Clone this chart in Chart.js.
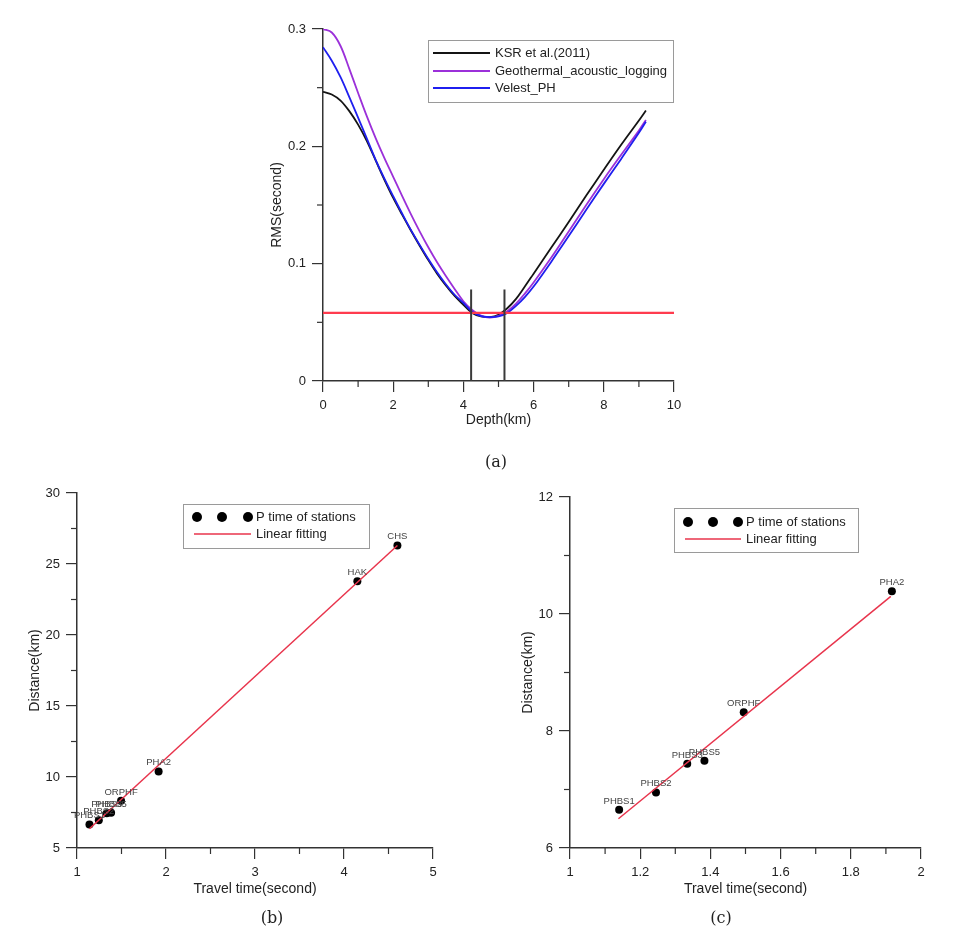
<!DOCTYPE html>
<html><head><meta charset="utf-8">
<script src="https://cdn.jsdelivr.net/npm/chart.js@4.4.1/dist/chart.umd.min.js"></script>
<style>
html,body{margin:0;padding:0;background:#fff;width:958px;height:931px;overflow:hidden;}
canvas{position:absolute;}
.cap{position:absolute;font-family:"DejaVu Serif","Liberation Serif",serif;font-size:16px;color:#222;transform:translate(-50%,-50%);white-space:nowrap;}
</style></head><body>
<canvas id="ca" width="450" height="440" style="left:250px;top:0px"></canvas>
<canvas id="cb" width="470" height="440" style="left:0px;top:470px"></canvas>
<canvas id="cc" width="470" height="440" style="left:480px;top:470px"></canvas>
<div class="cap" style="left:496px;top:461px">(a)</div>
<div class="cap" style="left:272px;top:917px">(b)</div>
<div class="cap" style="left:721px;top:917px">(c)</div>
<script>
// ---------- data (a) ----------
const depthKm = [0,0.25,0.5,0.75,1,1.25,1.5,1.75,2,2.25,2.5,2.75,3,3.25,3.5,3.75,4,4.25,4.5,4.75,5,5.25,5.5,5.75,6,6.5,7,7.5,8,8.5,9,9.2];
const rmsKSR = [0.2465,0.2442,0.2390,0.2300,0.2185,0.2045,0.1880,0.1715,0.1560,0.1420,0.1285,0.1155,0.1030,0.0915,0.0815,0.0725,0.0650,0.0580,0.0550,0.0545,0.0565,0.0620,0.0700,0.0805,0.0915,0.1135,0.1355,0.1580,0.1800,0.2015,0.2220,0.2305];
const rmsGeo = [0.3000,0.2970,0.2855,0.2660,0.2455,0.2255,0.2070,0.1900,0.1740,0.1580,0.1425,0.1278,0.1140,0.1012,0.0895,0.0785,0.0680,0.0605,0.0557,0.0540,0.0555,0.0595,0.0660,0.0745,0.0840,0.1050,0.1275,0.1500,0.1720,0.1930,0.2135,0.2225];
const rmsVelest = [0.2845,0.2730,0.2590,0.2420,0.2245,0.2065,0.1885,0.1725,0.1575,0.1430,0.1290,0.1162,0.1040,0.0927,0.0825,0.0735,0.0665,0.0590,0.0553,0.0545,0.0550,0.0580,0.0640,0.0715,0.0805,0.1015,0.1235,0.1460,0.1680,0.1895,0.2115,0.2210];
const seriesNamesA = ['KSR et al.(2011)','Geothermal_acoustic_logging','Velest_PH'];
const thresholdX = [0, 10];
const thresholdRMS = 0.058;
const boundDepths = [4.22, 5.17];
const boundRMS = [0, 0.078];
// ---------- data (b) ----------
const stationsB = ['PHBS1','PHBS2','PHBS3','PHBS5','ORPHF','PHA2','HAK','CHS'];
const travelB = [1.14,1.245,1.334,1.383,1.495,1.917,4.15,4.60];
const distB = [6.65,6.95,7.44,7.49,8.32,10.38,23.78,26.3];
const fitBx = [1.14, 4.60];
const fitBy = [6.36, 26.3];
// ---------- data (c) ----------
const stationsC = ['PHBS1','PHBS2','PHBS3','PHBS5','ORPHF','PHA2'];
const travelC = [1.14,1.245,1.334,1.383,1.495,1.917];
const distC = [6.655,6.95,7.44,7.49,8.32,10.39];
const fitCx = [1.138, 1.914];
const fitCy = [6.50, 10.30];
const legendNamesBC = ['P time of stations','Linear fitting'];

const FONT = '"Liberation Sans", Arial, sans-serif';
const AXIS = '#333';
const C_KSR = '#141414', C_GEO = '#9b30d9', C_VEL = '#1f1fef', C_RED = '#ff3b4e', C_FIT = '#e8344c';

const minorTicks = {
  id: 'minorTicks',
  afterDraw(chart, args, opts) {
    const ctx = chart.ctx, ca = chart.chartArea;
    ctx.save(); ctx.strokeStyle = AXIS; ctx.lineWidth = 1.2;
    for (const id of ['x', 'y']) {
      const s = chart.scales[id], m = opts[id], M = s.options.ticks.stepSize;
      if (!m) continue;
      for (let k = 0; ; k++) {
        const v = s.min + k * m;
        if (v > s.max + 1e-9) break;
        const r = (v - s.min) / M;
        if (Math.abs(r - Math.round(r)) < 1e-6) continue;
        const p = s.getPixelForValue(v);
        ctx.beginPath();
        if (id === 'x') { ctx.moveTo(p, ca.bottom); ctx.lineTo(p, ca.bottom + 6); }
        else { ctx.moveTo(ca.left, p); ctx.lineTo(ca.left - 6, p); }
        ctx.stroke();
      }
    }
    ctx.restore();
  }
};

const pointLabels = {
  id: 'pointLabels',
  afterDatasetsDraw(chart, args, opts) {
    if (!opts.labels) return;
    const meta = chart.getDatasetMeta(opts.dataset);
    const ctx = chart.ctx;
    ctx.save();
    ctx.font = '9.5px ' + FONT; ctx.fillStyle = '#444';
    ctx.textAlign = 'center'; ctx.textBaseline = 'bottom';
    meta.data.forEach((el, i) => ctx.fillText(opts.labels[i], el.x, el.y - 4));
    ctx.restore();
  }
};

const boxLegend = {
  id: 'boxLegend',
  afterDraw(chart, args, o) {
    if (!o.box) return;
    const ctx = chart.ctx;
    ctx.save();
    ctx.strokeStyle = '#9a9a9a'; ctx.lineWidth = 1;
    ctx.strokeRect(o.box[0] + 0.5, o.box[1] + 0.5, o.box[2], o.box[3]);
    ctx.font = '13px ' + FONT; ctx.fillStyle = '#222'; ctx.textBaseline = 'middle'; ctx.textAlign = 'left';
    o.rows.forEach(r => {
      if (r.type === 'line') {
        ctx.strokeStyle = r.color; ctx.lineWidth = r.width;
        ctx.beginPath(); ctx.moveTo(r.x0, r.y); ctx.lineTo(r.x1, r.y); ctx.stroke();
      } else {
        ctx.fillStyle = '#000';
        r.dots.forEach(dx => { ctx.beginPath(); ctx.arc(dx, r.y, 5, 0, Math.PI * 2); ctx.fill(); });
      }
      ctx.fillStyle = '#222';
      ctx.fillText(r.text, r.tx, r.y + 0.5);
    });
    ctx.restore();
  }
};

function fmt(v) { return String(Math.round(v * 1000) / 1000); }

function axisCfg(min, max, step, title, tpad, isX, fixed) {
  return {
    type: 'linear', min, max,
    ticks: { stepSize: step, font: { family: FONT, size: 13 }, color: '#222', padding: 6, autoSkip: false, maxRotation: 0, callback: fmt },
    grid: { display: true, drawOnChartArea: false, drawTicks: true, tickLength: 11, color: AXIS, lineWidth: 1.2 },
    border: { display: true, color: AXIS, width: 1.5 },
    title: { display: true, text: title, font: { family: FONT, size: 14, lineHeight: 1.2 }, color: '#222', padding: tpad },
    afterFit(s) { if (isX) s.height = fixed; else s.width = fixed; }
  };
}

function xy(xs, ys) { return xs.map((x, i) => ({ x, y: ys[i] })); }

// ---------- chart (a) ----------
new Chart(document.getElementById('ca'), {
  type: 'line',
  data: {
    datasets: [
      { data: [{ x: boundDepths[0], y: boundRMS[0] }, { x: boundDepths[0], y: boundRMS[1] }], borderColor: '#3a3a3a', borderWidth: 2, pointRadius: 0 },
      { data: [{ x: boundDepths[1], y: boundRMS[0] }, { x: boundDepths[1], y: boundRMS[1] }], borderColor: '#3a3a3a', borderWidth: 2, pointRadius: 0 },
      { data: thresholdX.map(x => ({ x, y: thresholdRMS })), borderColor: C_RED, borderWidth: 2.2, pointRadius: 0 },
      { label: seriesNamesA[2], data: xy(depthKm, rmsVelest), borderColor: C_VEL, borderWidth: 1.8, pointRadius: 0, tension: 0.35 },
      { label: seriesNamesA[1], data: xy(depthKm, rmsGeo), borderColor: C_GEO, borderWidth: 1.8, pointRadius: 0, tension: 0.35 },
      { label: seriesNamesA[0], data: xy(depthKm, rmsKSR), borderColor: C_KSR, borderWidth: 1.8, pointRadius: 0, tension: 0.35 }
    ]
  },
  options: {
    responsive: false, animation: false,
    layout: { padding: { top: 29, right: 26, left: 0, bottom: 0 } },
    scales: {
      x: axisCfg(0, 10, 2, 'Depth(km)', { top: 0, bottom: 11.6 }, true, 59),
      y: axisCfg(0, 0.3, 0.1, 'RMS(second)', { top: 18.6, bottom: 0 }, false, 73)
    },
    plugins: {
      legend: { display: false }, tooltip: { enabled: false },
      minorTicks: { x: 1, y: 0.05 },
      boxLegend: {
        box: [178, 40, 245, 62],
        rows: [
          { type: 'line', color: C_KSR, width: 2, x0: 183, x1: 240, y: 53, tx: 245, text: seriesNamesA[0] },
          { type: 'line', color: C_GEO, width: 2, x0: 183, x1: 240, y: 71, tx: 245, text: seriesNamesA[1] },
          { type: 'line', color: C_VEL, width: 2, x0: 183, x1: 240, y: 88, tx: 245, text: seriesNamesA[2] }
        ]
      }
    }
  },
  plugins: [minorTicks, boxLegend]
});

// ---------- chart (b) ----------
new Chart(document.getElementById('cb'), {
  type: 'scatter',
  data: {
    datasets: [
      { data: xy(fitBx, fitBy), showLine: true, borderColor: C_FIT, borderWidth: 1.5, pointRadius: 0 },
      { data: xy(travelB, distB), backgroundColor: '#000', borderColor: '#000', pointRadius: 4, borderWidth: 0 }
    ]
  },
  options: {
    responsive: false, animation: false,
    layout: { padding: { top: 23, right: 37, left: 0, bottom: 0 } },
    scales: {
      x: axisCfg(1, 5, 1, 'Travel time(second)', { top: 0, bottom: 12.6 }, true, 62),
      y: axisCfg(5, 30, 5, 'Distance(km)', { top: 26.6, bottom: 0 }, false, 77)
    },
    plugins: {
      legend: { display: false }, tooltip: { enabled: false },
      minorTicks: { x: 0.5, y: 2.5 },
      pointLabels: { dataset: 1, labels: stationsB },
      boxLegend: {
        box: [183, 34, 186, 44],
        rows: [
          { type: 'dots', dots: [197, 222, 248], y: 47, tx: 256, text: legendNamesBC[0] },
          { type: 'line', color: C_FIT, width: 1.5, x0: 194, x1: 251, y: 64, tx: 256, text: legendNamesBC[1] }
        ]
      }
    }
  },
  plugins: [minorTicks, pointLabels, boxLegend]
});

// ---------- chart (c) ----------
new Chart(document.getElementById('cc'), {
  type: 'scatter',
  data: {
    datasets: [
      { data: xy(fitCx, fitCy), showLine: true, borderColor: C_FIT, borderWidth: 1.5, pointRadius: 0 },
      { data: xy(travelC, distC), backgroundColor: '#000', borderColor: '#000', pointRadius: 4, borderWidth: 0 }
    ]
  },
  options: {
    responsive: false, animation: false,
    layout: { padding: { top: 27, right: 29, left: 0, bottom: 0 } },
    scales: {
      x: axisCfg(1, 2, 0.2, 'Travel time(second)', { top: 0, bottom: 12.6 }, true, 62),
      y: axisCfg(6, 12, 2, 'Distance(km)', { top: 39.6, bottom: 0 }, false, 90)
    },
    plugins: {
      legend: { display: false }, tooltip: { enabled: false },
      minorTicks: { x: 0.1, y: 1 },
      pointLabels: { dataset: 1, labels: stationsC },
      boxLegend: {
        box: [194, 38, 184, 44],
        rows: [
          { type: 'dots', dots: [208, 233, 258], y: 52, tx: 266, text: legendNamesBC[0] },
          { type: 'line', color: C_FIT, width: 1.5, x0: 205, x1: 261, y: 69, tx: 266, text: legendNamesBC[1] }
        ]
      }
    }
  },
  plugins: [minorTicks, pointLabels, boxLegend]
});
</script>
</body></html>
